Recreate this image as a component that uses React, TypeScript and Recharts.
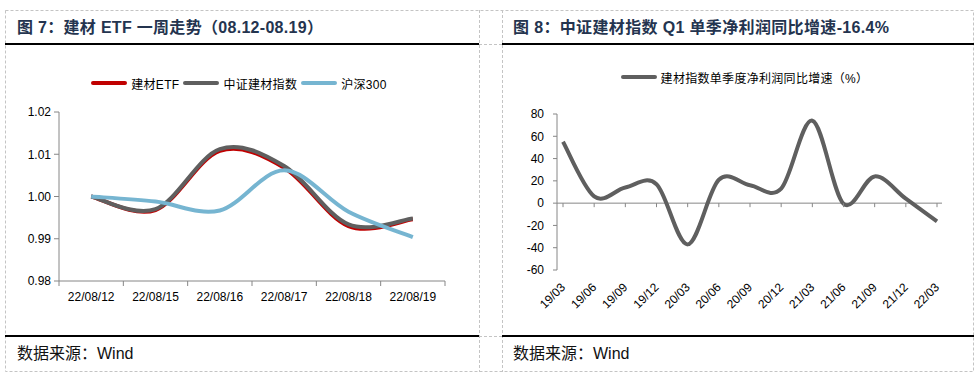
import React from 'react';
import { LineChart, Line, XAxis, YAxis, Legend, ReferenceLine } from 'recharts';

// ---------- data: figure 7 ----------
const etfDates = ['22/08/12', '22/08/15', '22/08/16', '22/08/17', '22/08/18', '22/08/19'];
const etfValues = [1.0, 0.9968, 1.0108, 1.0068, 0.993, 0.9946];
const indexValues = [1.0, 0.997, 1.0112, 1.0072, 0.9934, 0.9948];
const hs300Values = [1.0, 0.9988, 0.9967, 1.0062, 0.9964, 0.9904];
const leftYTicks = [0.98, 0.99, 1.0, 1.01, 1.02];
const leftSeriesNames = ['建材ETF', '中证建材指数', '沪深300'];

// ---------- data: figure 8 ----------
const quarters = ['19/03', '19/06', '19/09', '19/12', '20/03', '20/06', '20/09', '20/12', '21/03', '21/06', '21/09', '21/12', '22/03'];
const profitGrowth = [55, 6, 14, 17, -37, 21, 16, 13, 74, -0.5, 24, 4, -16.4];
const rightYTicks = [-60, -40, -20, 0, 20, 40, 60, 80];
const rightSeriesName = '建材指数单季度净利润同比增速（%）';

const titleLeft = '图 7：建材 ETF 一周走势（08.12-08.19）';
const titleRight = '图 8：中证建材指数 Q1 单季净利润同比增速-16.4%';
const sourceText = '数据来源：Wind';

const leftData = etfDates.map((d, i) => ({ date: d, etf: etfValues[i], idx: indexValues[i], hs: hs300Values[i] }));
const rightData = quarters.map((q, i) => ({ q, growth: profitGrowth[i] }));

const FONT = '"Liberation Sans", Arial, "Noto Sans CJK SC", sans-serif';
const AXIS = '#868686';
const RED = '#C00000';
const GRAY = '#5F5F5F';
const BLUE = '#76B5D1';

// Catmull-Rom curve (Excel-like smoothing)
const catmullRom: any = (context: any) => {
  let pts: number[][] = [];
  return {
    areaStart() {},
    areaEnd() {},
    lineStart() {
      pts = [];
    },
    point(x: number, y: number) {
      pts.push([+x, +y]);
    },
    lineEnd() {
      const n = pts.length;
      if (!n) return;
      context.moveTo(pts[0][0], pts[0][1]);
      for (let i = 0; i < n - 1; i++) {
        const p0 = pts[Math.max(0, i - 1)];
        const p1 = pts[i];
        const p2 = pts[i + 1];
        const p3 = pts[Math.min(n - 1, i + 2)];
        context.bezierCurveTo(
          p1[0] + (p2[0] - p0[0]) / 6,
          p1[1] + (p2[1] - p0[1]) / 6,
          p2[0] - (p3[0] - p1[0]) / 6,
          p2[1] - (p3[1] - p1[1]) / 6,
          p2[0],
          p2[1]
        );
      }
    },
  };
};

// ---------- layout: left chart ----------
const L_W = 478;
const L_H = 260;
const L_MT = 62;
const L_MR = 33;
const L_YW = 59;
const L_XH = 29;
const L_PLOT_BOTTOM = L_H - L_XH;
const L_BW = (L_W - L_YW - L_MR) / etfDates.length;

// ---------- layout: right chart ----------
const R_W = 490;
const R_H = 270;
const R_MT = 64;
const R_MR = 38;
const R_YW = 67;
const R_XH = 50;
const R_PLOT_BOTTOM = R_H - R_XH;
const R_ZERO_Y = R_MT + ((80 - 0) / (80 - -60)) * (R_PLOT_BOTTOM - R_MT);

const LeftTick = (props: any) => {
  const { x, payload, index } = props;
  const last = index === etfDates.length - 1;
  return (
    <g>
      <line x1={x - L_BW / 2} x2={x - L_BW / 2} y1={L_PLOT_BOTTOM} y2={L_PLOT_BOTTOM + 5} stroke={AXIS} />
      {last && <line x1={x + L_BW / 2} x2={x + L_BW / 2} y1={L_PLOT_BOTTOM} y2={L_PLOT_BOTTOM + 5} stroke={AXIS} />}
      <text x={x} y={L_PLOT_BOTTOM + 16} textAnchor="middle" dominantBaseline="central" fontSize={12} fill="#000" fontFamily={FONT}>
        {payload.value}
      </text>
    </g>
  );
};

const RightTick = (props: any) => {
  const { x, payload } = props;
  const ax = x + 3;
  const ay = R_PLOT_BOTTOM + 18;
  return (
    <g>
      <line x1={x} x2={x} y1={R_ZERO_Y} y2={R_ZERO_Y + 4} stroke={AXIS} />
      <text x={ax} y={ay} transform={`rotate(-45, ${ax}, ${ay})`} textAnchor="end" fontSize={12} fill="#000" fontFamily={FONT}>
        {payload.value}
      </text>
    </g>
  );
};

const LegendRow = (props: any) => {
  const { payload, shift, order } = props;
  const items = [...(payload || [])];
  if (order) items.sort((a: any, b: any) => order.indexOf(a.value) - order.indexOf(b.value));
  return (
    <div
      style={{
        display: 'flex',
        justifyContent: 'center',
        alignItems: 'center',
        height: 20,
        paddingLeft: shift || 0,
        fontSize: 12,
        fontFamily: FONT,
        color: '#000',
        boxSizing: 'border-box',
        letterSpacing: 0.3,
      }}
    >
      {items.map((e: any, i: number) => (
        <div key={i} style={{ display: 'flex', alignItems: 'center', marginLeft: i ? 4 : 0 }}>
          <span style={{ display: 'inline-block', width: 36, height: 4, borderRadius: 2, background: e.color, marginRight: 4 }} />
          <span style={{ whiteSpace: 'nowrap' }}>{e.value}</span>
        </div>
      ))}
    </div>
  );
};

const Borders = () => (
  <svg width={980} height={378} style={{ position: 'absolute', left: 0, top: 0 }}>
    <g stroke="#c4c4c4" strokeWidth={1} strokeDasharray="3 2" fill="none">
      <rect x={5.5} y={10.5} width={968} height={361} />
      <line x1={479.5} x2={479.5} y1={10} y2={372} />
      <line x1={502.5} x2={502.5} y1={10} y2={372} />
      <line x1={479} x2={503} y1={44.5} y2={44.5} />
      <line x1={479} x2={503} y1={336.5} y2={336.5} />
    </g>
    <g stroke="#000" strokeWidth={2}>
      <line x1={5} x2={479} y1={44} y2={44} />
      <line x1={502} x2={974} y1={44} y2={44} />
      <line x1={5} x2={479} y1={336} y2={336} />
      <line x1={502} x2={974} y1={336} y2={336} />
    </g>
  </svg>
);

const textAbs = (left: number, centerY: number, size: number, bold: boolean, color: string, spacing = 0): React.CSSProperties => ({
  position: 'absolute',
  left,
  top: centerY - size * 0.6,
  height: size * 1.2,
  lineHeight: `${size * 1.2}px`,
  fontSize: size,
  fontWeight: bold ? 'bold' : 'normal',
  color,
  fontFamily: FONT,
  whiteSpace: 'nowrap',
  letterSpacing: spacing,
});

export default function App() {
  return (
    <div style={{ position: 'absolute', left: 0, top: 0, width: 980, height: 378, background: '#fff', overflow: 'hidden' }}>
      <Borders />
      <div style={textAbs(17, 27.5, 16, true, '#24344F', 0.3)}>{titleLeft}</div>
      <div style={textAbs(513, 27.5, 16, true, '#24344F', 0.35)}>{titleRight}</div>
      <div style={textAbs(17, 354, 16, false, '#111')}>{sourceText}</div>
      <div style={textAbs(513, 354, 16, false, '#111')}>{sourceText}</div>

      <div style={{ position: 'absolute', left: 0, top: 50 }}>
        <LineChart width={L_W} height={L_H} data={leftData} margin={{ top: L_MT, right: L_MR, bottom: 0, left: 0 }}>
          <XAxis
            dataKey="date"
            scale="band"
            interval={0}
            height={L_XH}
            tickLine={false}
            axisLine={{ stroke: AXIS }}
            tick={<LeftTick />}
          />
          <YAxis
            width={L_YW}
            domain={[0.98, 1.02]}
            ticks={leftYTicks}
            interval={0}
            allowDataOverflow
            tickFormatter={(v: number) => v.toFixed(2)}
            tickSize={5}
            tickMargin={3}
            axisLine={{ stroke: AXIS }}
            tickLine={{ stroke: AXIS }}
            tick={{ fontSize: 12, fill: '#000', fontFamily: FONT }}
          />
          <Legend
            verticalAlign="middle"
            align="center"
            layout="horizontal"
            wrapperStyle={{ top: 23, left: 0, width: L_W, height: 20 }}
            content={(p: any) => <LegendRow payload={p.payload} shift={0} order={leftSeriesNames} />}
          />
          <Line name={leftSeriesNames[0]} dataKey="etf" type={catmullRom} stroke={RED} strokeWidth={4} dot={false} isAnimationActive={false} />
          <Line name={leftSeriesNames[1]} dataKey="idx" type={catmullRom} stroke={GRAY} strokeWidth={4} dot={false} isAnimationActive={false} />
          <Line name={leftSeriesNames[2]} dataKey="hs" type={catmullRom} stroke={BLUE} strokeWidth={4} dot={false} isAnimationActive={false} />
        </LineChart>
      </div>

      <div style={{ position: 'absolute', left: 490, top: 50 }}>
        <LineChart width={R_W} height={R_H} data={rightData} margin={{ top: R_MT, right: R_MR, bottom: 0, left: 0 }}>
          <XAxis
            dataKey="q"
            scale="point"
            padding={{ left: 6, right: 5 }}
            interval={0}
            height={R_XH}
            tickLine={false}
            axisLine={false}
            tick={<RightTick />}
          />
          <YAxis
            width={R_YW}
            domain={[-60, 80]}
            ticks={rightYTicks}
            interval={0}
            allowDataOverflow
            tickSize={4}
            tickMargin={9}
            axisLine={{ stroke: AXIS }}
            tickLine={{ stroke: AXIS }}
            tick={{ fontSize: 12, fill: '#000', fontFamily: FONT }}
          />
          <ReferenceLine y={0} stroke={AXIS} strokeWidth={1} />
          <Legend
            verticalAlign="middle"
            align="center"
            layout="horizontal"
            wrapperStyle={{ top: 17, left: 0, width: R_W, height: 20 }}
            content={(p: any) => <LegendRow payload={p.payload} shift={19} />}
          />
          <Line name={rightSeriesName} dataKey="growth" type={catmullRom} stroke={GRAY} strokeWidth={4} dot={false} isAnimationActive={false} />
        </LineChart>
      </div>
    </div>
  );
}
